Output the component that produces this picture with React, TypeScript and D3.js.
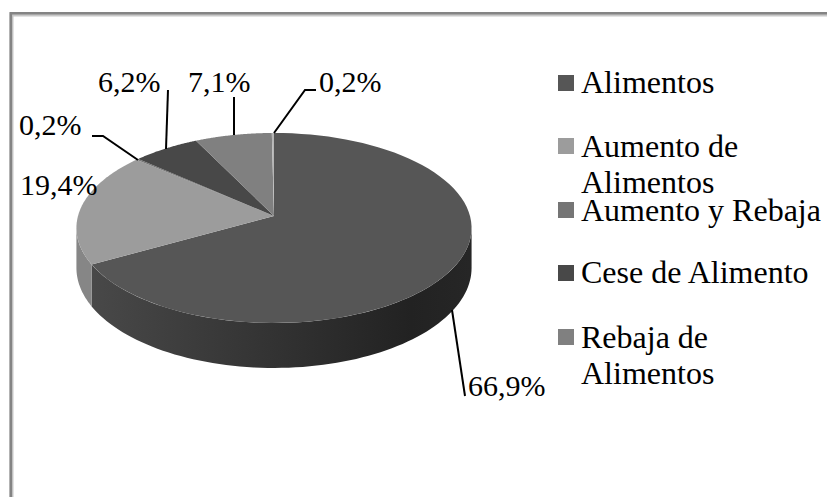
import React from "react";
import * as d3 from "d3";

const categories = ["Alimentos", "Aumento de Alimentos", "Aumento y Rebaja", "Cese de Alimento", "Rebaja de Alimentos"];
const values = [66.9, 19.4, 0.2, 6.2, 7.1];
const extraSliver = 0.2; // the 0,2% sliver next to 12 o'clock
const valueLabels = ["66,9%", "19,4%", "0,2%", "6,2%", "7,1%", "0,2%"];
const topColors = ["#565656", "#9c9c9c", "#757575", "#484848", "#808080", "#b5b5b5"];
const wallColors = ["#474747", "#868686", "#666666", "#3c3c3c", "#6c6c6c", "#999999"];
const legendLines = [["Alimentos"], ["Aumento de", "Alimentos"], ["Aumento y Rebaja"], ["Cese de Alimento"], ["Rebaja de", "Alimentos"]];
const legendColors = ["#565656", "#9c9c9c", "#757575", "#484848", "#808080"];

// apex of the pie and the perspective of the tilted disc
const cx = 274;
const cy = 216;
const rx = 196;
const ry = 93.5;
const k = 0.126;
const depth = 39.3;

const sliceValues = [...values, extraSliver];
const pie = d3.pie<number>().sort(null).startAngle(0).endAngle(2 * Math.PI);
const arcs = pie(sliceValues);

// rim point, angle is clockwise from 12 o'clock
const persp = (a: number) => 1 + k * Math.cos(a);
const px = (a: number) => cx + (rx * Math.sin(a)) / persp(a);
const py = (a: number) => cy - (ry * Math.cos(a)) / persp(a);

const topPath = (a0: number, a1: number) => {
  const p = d3.path();
  p.moveTo(cx, cy);
  const n = 80;
  d3.range(n + 1).forEach((i) => {
    const a = a0 + ((a1 - a0) * i) / n;
    p.lineTo(px(a), py(a));
  });
  p.closePath();
  return p.toString();
};

// outer wall: only the part facing the viewer, between the two silhouette angles
const wallStart = Math.acos(-k);
const wallEnd = 2 * Math.PI - wallStart;
const sidePath = (a0: number, a1: number) => {
  const s = Math.max(a0, wallStart);
  const e = Math.min(a1, wallEnd);
  if (e <= s) return null;
  const p = d3.path();
  const n = 80;
  d3.range(n + 1).forEach((i) => {
    const a = s + ((e - s) * i) / n;
    if (i === 0) p.moveTo(px(a), py(a));
    else p.lineTo(px(a), py(a));
  });
  d3.range(n + 1).forEach((i) => {
    const a = e - ((e - s) * i) / n;
    p.lineTo(px(a), py(a) + depth / persp(a));
  });
  p.closePath();
  return p.toString();
};

const leaders = [
  [[452, 310], [465, 396]],
  [[138, 160], [103, 136], [92, 136]],
  [[166, 149], [168, 90]],
  [[234, 135], [234, 97]],
  [[274, 133], [305, 90], [316, 90]],
];
const labelPos = [
  [468, 396],
  [20, 195],
  [19, 135],
  [98, 92],
  [188, 92],
  [319, 92],
];
const legendBase = [93, 157, 221, 283, 348];
const lineStep = 36;
const swatchTop = [75, 138, 202, 265, 329];

const line = d3.line();
const font = "'Liberation Serif', 'Times New Roman', serif";

export default function App() {
  return (
    <svg
      width={827}
      height={497}
      style={{ position: "absolute", left: 0, top: 0, background: "#fff" }}
      fontFamily={font}
    >
      <defs>
        <linearGradient id="wall" gradientUnits="userSpaceOnUse" x1={cx - rx} x2={cx + rx} y1={0} y2={0}>
          <stop offset="0" stopColor="#4a4a4a" />
          <stop offset="0.85" stopColor="#222222" />
          <stop offset="1" stopColor="#262626" />
        </linearGradient>
      </defs>
      <path d="M11.5,497V14.5H827" fill="none" stroke="#c8c8c8" strokeWidth={4} />
      <path d="M10.8,497V13.3H827" fill="none" stroke="#848484" strokeWidth={2.6} />
      {arcs.map((d, i) => {
        const path = sidePath(d.startAngle, d.endAngle);
        return path ? <path key={i} d={path} fill={i === 0 ? "url(#wall)" : wallColors[i]} /> : null;
      })}
      {arcs.map((d, i) => (
        <path key={i} d={topPath(d.startAngle, d.endAngle)} fill={topColors[i]} />
      ))}
      {leaders.map((pts, i) => (
        <path key={i} d={line(pts as [number, number][]) ?? ""} fill="none" stroke="#000" strokeWidth={2} />
      ))}
      {valueLabels.map((t, i) => (
        <text key={i} x={labelPos[i][0]} y={labelPos[i][1]} fontSize={30} fill="#000">
          {t}
        </text>
      ))}
      {categories.map((c, i) => (
        <g key={c}>
          <rect x={558} y={swatchTop[i]} width={16} height={16} fill={legendColors[i]} />
          {legendLines[i].map((t, j) => (
            <text key={j} x={581} y={legendBase[i] + j * lineStep} fontSize={32} fill="#000">
              {t}
            </text>
          ))}
        </g>
      ))}
    </svg>
  );
}
